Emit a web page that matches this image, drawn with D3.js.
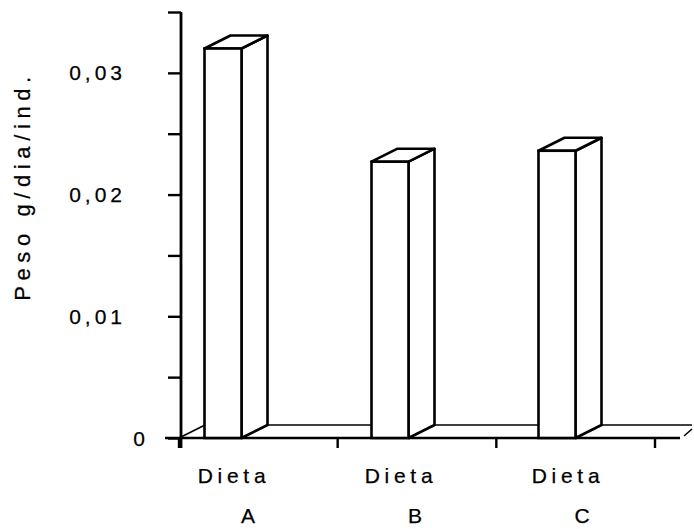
<!DOCTYPE html>
<html>
<head>
<meta charset="utf-8">
<script src="https://cdn.jsdelivr.net/npm/d3@7"></script>
<style>
  body { margin: 0; background: #fff; }
  text { font-family: "Liberation Sans", Arial, sans-serif; fill: #000; stroke: #000; stroke-width: 0.25px; }
</style>
</head>
<body>
<script>

// data
var categories = ["A", "B", "C"];
var values = [0.0320, 0.0227, 0.0236];
var yTickValues = [0, 0.01, 0.02, 0.03];
var yTickLabels = ["0", "0,01", "0,02", "0,03"];
var catPrefix = "Dieta";
var yTitle = "Peso g/dia/ind.";

var width = 694, height = 529;

// depth of the fake 3d boxes
var dx = 26, dy = -13;
var barW = 37;

var y = d3.scaleLinear()
    .domain([0, 0.035])
    .range([438, 12]);

// floor ticks
var xFloor = d3.scaleBand()
    .domain(categories)
    .range([179, 655]);

// front face centres of the bars
var xBar = d3.scalePoint()
    .domain(categories)
    .range([223, 557]);

var svg = d3.select("body").append("svg")
    .attr("width", width)
    .attr("height", height);

// floor
var floor = svg.append("g").attr("class", "floor");

floor.append("line")
    .attr("x1", xFloor.range()[0] + dx).attr("y1", y(0) + dy)
    .attr("x2", 692).attr("y2", y(0) + dy)
    .attr("stroke", "#000").attr("stroke-width", 1.6);

floor.append("line")
    .attr("x1", xFloor.range()[0]).attr("y1", y(0))
    .attr("x2", xFloor.range()[0] + dx).attr("y2", y(0) + dy)
    .attr("stroke", "#000").attr("stroke-width", 1.6);

floor.append("line")
    .attr("x1", 684).attr("y1", y(0) - 2)
    .attr("x2", 692).attr("y2", y(0) + dy + 4)
    .attr("stroke", "#000").attr("stroke-width", 1.6);

// x axis (front edge of the floor) with ticks hanging down
var gx = svg.append("g")
    .attr("class", "x axis")
    .attr("transform", "translate(0," + y(0) + ")");

gx.append("line")
    .attr("x1", 165).attr("x2", 680)
    .attr("stroke", "#000").attr("stroke-width", 2.6);

var floorTicks = categories.map(function(c) { return xFloor(c); }).concat([xFloor.range()[1]]);
gx.selectAll(".ftick")
    .data(floorTicks)
  .enter().append("line")
    .attr("class", "ftick")
    .attr("x1", function(d) { return d; })
    .attr("x2", function(d) { return d; })
    .attr("y1", 0).attr("y2", 10)
    .attr("stroke", "#000").attr("stroke-width", 2.4);

// bars
var bar = svg.selectAll(".bar")
    .data(values)
  .enter().append("g")
    .attr("class", "bar");

// side face
bar.append("path")
    .attr("d", function(d, i) {
      var x1 = xBar(categories[i]) + barW / 2, t = y(d), b = y(0);
      return "M" + x1 + "," + b + "L" + (x1 + dx) + "," + (b + dy) +
             "L" + (x1 + dx) + "," + (t + dy) + "L" + x1 + "," + t + "Z";
    })
    .attr("fill", "#fff").attr("stroke", "#000").attr("stroke-width", 2.6)
    .attr("stroke-linejoin", "round");

// top face
bar.append("path")
    .attr("d", function(d, i) {
      var x0 = xBar(categories[i]) - barW / 2, t = y(d);
      return "M" + x0 + "," + t + "L" + (x0 + barW) + "," + t +
             "L" + (x0 + barW + dx) + "," + (t + dy) + "L" + (x0 + dx) + "," + (t + dy) + "Z";
    })
    .attr("fill", "#fff").attr("stroke", "#000").attr("stroke-width", 2.6)
    .attr("stroke-linejoin", "round");

// front face
bar.append("rect")
    .attr("x", function(d, i) { return xBar(categories[i]) - barW / 2; })
    .attr("y", function(d) { return y(d); })
    .attr("width", barW)
    .attr("height", function(d) { return y(0) - y(d); })
    .attr("fill", "#fff").attr("stroke", "#000").attr("stroke-width", 2.6);

// y axis
var yAxis = d3.axisLeft(y)
    .tickValues(d3.range(0, 0.0351, 0.005))
    .tickSize(13)
    .tickFormat("");

var gy = svg.append("g")
    .attr("class", "y axis")
    .attr("transform", "translate(181,0)")
    .call(yAxis);

gy.select(".domain").remove();
gy.append("line")
    .attr("y1", y(0.035)).attr("y2", y(0) + 10)
    .attr("stroke", "#000").attr("stroke-width", 2.8);
gy.selectAll(".tick line")
    .attr("stroke", "#000").attr("stroke-width", 2.4);

// y tick labels
svg.selectAll(".ylabel")
    .data(yTickValues)
  .enter().append("text")
    .attr("class", "ylabel")
    .attr("x", function(d) { return d === 0 ? 149 : 126; })
    .attr("y", function(d) { return y(d); })
    .attr("dy", "0.36em")
    .style("text-anchor", "end")
    .style("font-size", "21px")
    .style("letter-spacing", "4px")
    .text(function(d, i) { return yTickLabels[i]; });

// y title
svg.append("text")
    .attr("transform", "translate(30,186) rotate(-90)")
    .style("text-anchor", "middle")
    .style("font-size", "22px")
    .style("letter-spacing", "5.6px")
    .text(yTitle);

// category labels
var lab = svg.selectAll(".xlabel")
    .data(categories)
  .enter().append("g")
    .attr("class", "xlabel")
    .attr("transform", function(d) { return "translate(" + xBar(d) + ",0)"; });

lab.append("text")
    .attr("x", 11)
    .attr("y", 483)
    .style("text-anchor", "middle")
    .style("font-size", "21px")
    .style("letter-spacing", "4.7px")
    .text(catPrefix);

lab.append("text")
    .attr("x", 25)
    .attr("y", 523)
    .style("text-anchor", "middle")
    .style("font-size", "21px")
    .text(function(d) { return d; });

</script>
</body>
</html>
